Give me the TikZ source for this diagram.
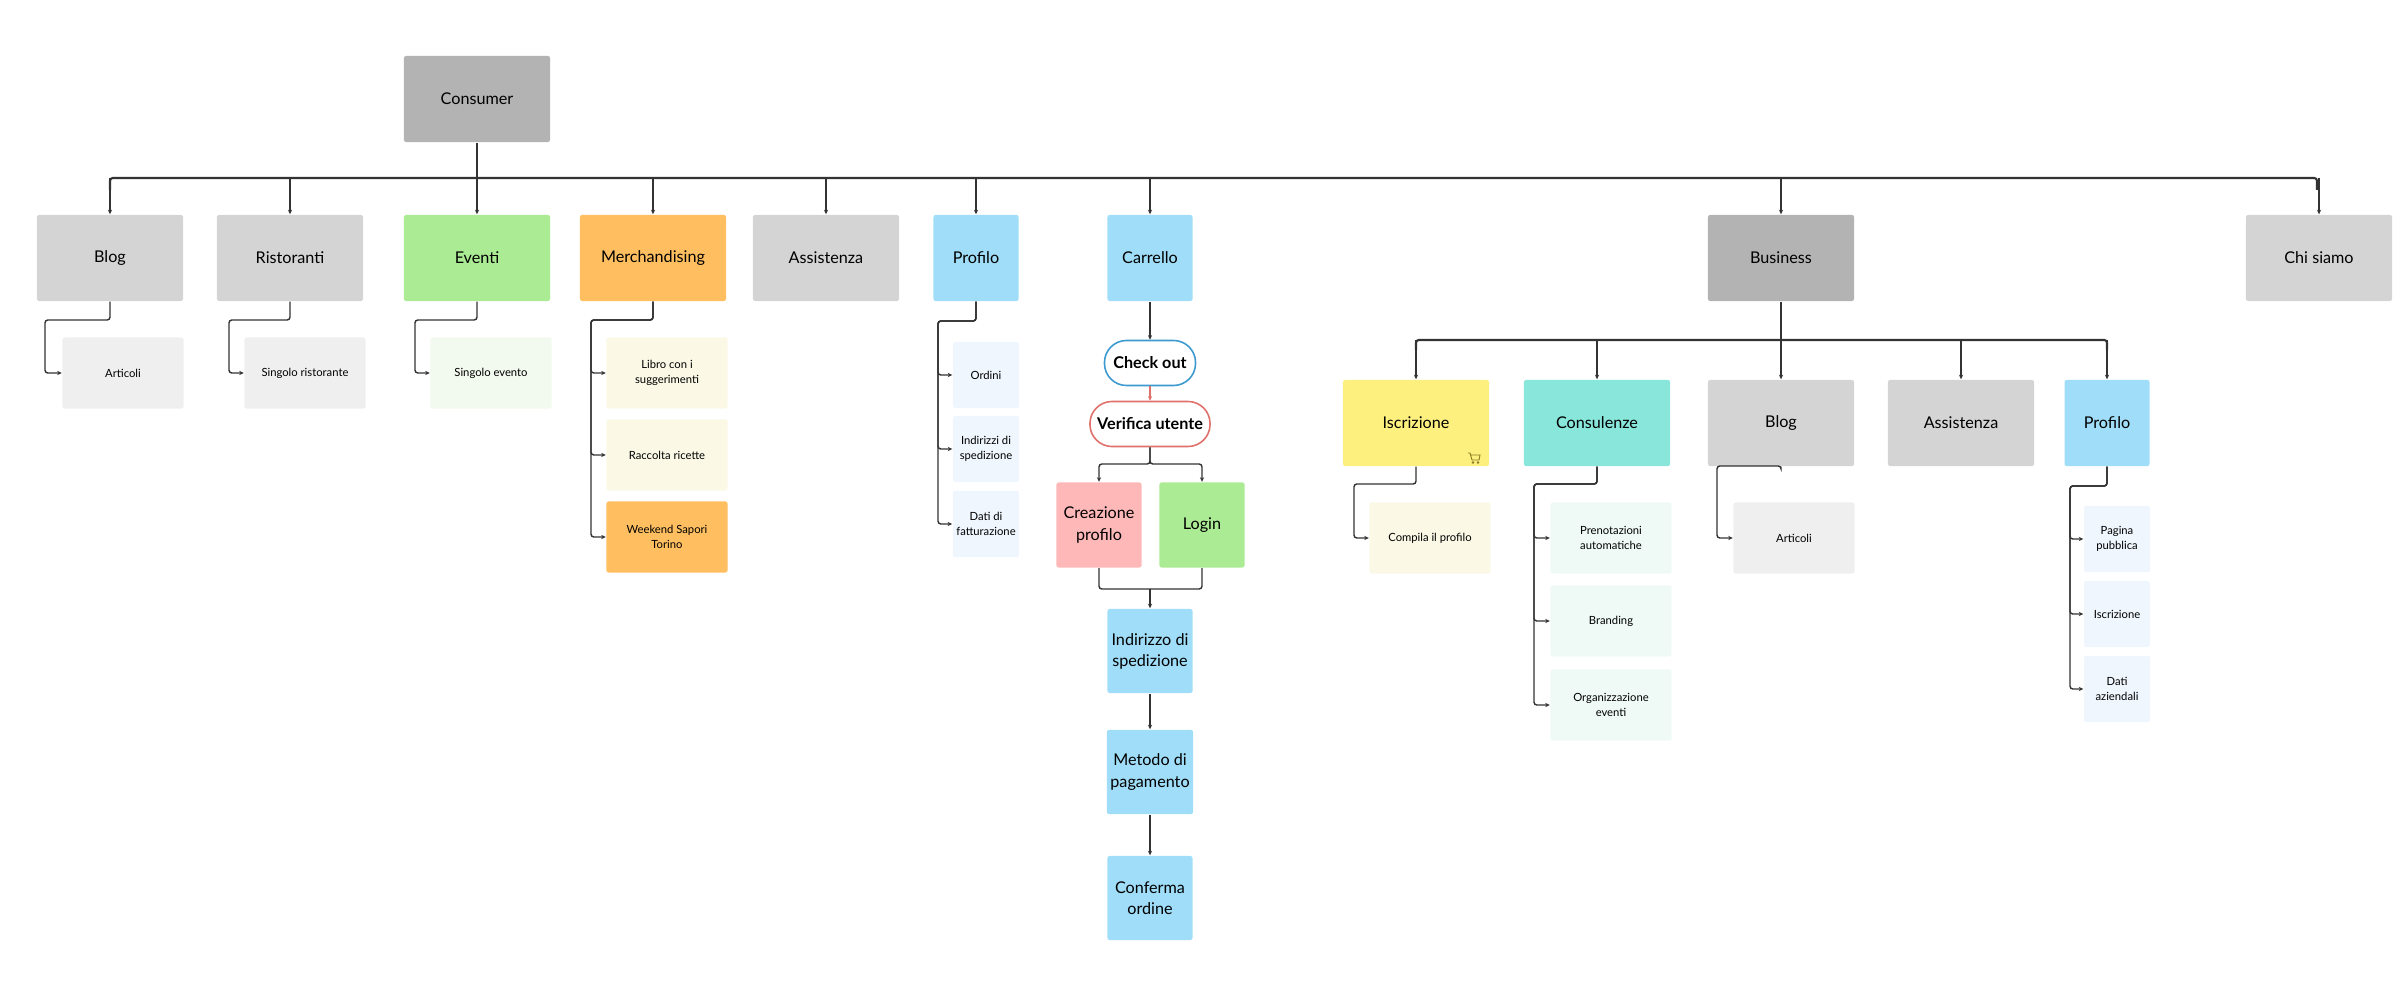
\documentclass[tikz,border=0pt]{standalone}
\usepackage{fontspec}
\setmainfont{Lato}
\usetikzlibrary{arrows.meta}
\definecolor{grayA}{HTML}{D4D4D4}
\definecolor{grayB}{HTML}{B3B3B3}
\definecolor{greenA}{HTML}{ABEB94}
\definecolor{orangeA}{HTML}{FFBF60}
\definecolor{blueA}{HTML}{A0DDF8}
\definecolor{yellowA}{HTML}{FEF07F}
\definecolor{tealA}{HTML}{88E6DA}
\definecolor{pinkA}{HTML}{FFB8B8}
\definecolor{grayL}{HTML}{EFEFEF}
\definecolor{greenL}{HTML}{F2F9EE}
\definecolor{yellowL}{HTML}{FBF9E6}
\definecolor{blueL}{HTML}{EFF6FD}
\definecolor{tealL}{HTML}{EFFAF7}
\definecolor{lineC}{HTML}{333333}
\definecolor{pillBlue}{HTML}{3C9AD0}
\definecolor{pillRed}{HTML}{E0706C}
\definecolor{cartC}{HTML}{8A7A20}
\tikzset{
  box/.style={draw=none, rounded corners=0.6pt, minimum width=1.46cm, minimum height=0.86cm,
    align=center, font=\fontsize{4.6}{6}\selectfont, inner sep=1pt},
  narrow/.style={box, minimum width=0.85cm},
  leaf/.style={draw=none, rounded corners=0.6pt, minimum width=1.21cm, minimum height=0.71cm,
    align=center, font=\fontsize{3.2}{4.4}\selectfont, inner sep=1pt},
  small/.style={leaf, minimum width=0.66cm, minimum height=0.66cm},
  pill/.style={rounded corners=2.2mm, fill=white, line width=0.45pt, minimum height=0.45cm,
    font=\bfseries\fontsize{4.6}{6}\selectfont, inner sep=1pt},
  arr/.style={draw=lineC, line width=0.4pt, -{Stealth[length=1.3pt,width=1.2pt]}},
  bus/.style={draw=lineC, line width=0.6pt, rounded corners=0.8pt},
  sub/.style={arr, rounded corners=0.8pt}
}
\begin{document}
\begin{tikzpicture}[x=0.01cm, y=-0.01cm]
\useasboundingbox (0,0) rectangle (2400,998);
% top level
\node[box, fill=grayB] (cons) at (477,99) {Consumer};
\node[box, fill=grayA] (blog) at (110,258) {Blog};
\node[box, fill=grayA] (rist) at (290,258) {Ristoranti};
\node[box, fill=greenA] (even) at (477,258) {Eventi};
\node[box, fill=orangeA] (merc) at (653,258) {Merchandising};
\node[box, fill=grayA] (assi) at (826,258) {Assistenza};
\node[narrow, fill=blueA] (prof) at (976,258) {Profilo};
\node[narrow, fill=blueA] (carr) at (1150,258) {Carrello};
\node[box, fill=grayB] (busi) at (1781,258) {Business};
\node[box, fill=grayA] (chis) at (2319,258) {Chi siamo};
% main bus
\draw[bus] (cons.south) -- (477,178);
\draw[bus] (110,190) -- (110,178) -- (2317,178) -- (2317,190);
\foreach \n in {blog,rist,even,merc,assi,prof,carr,busi,chis}
  \draw[arr] (\n.north |- 0,178) -- (\n.north);
% consumer leaves
\node[leaf, fill=grayL] (art1) at (123,373) {Articoli};
\node[leaf, fill=grayL] (sris) at (305,373) {Singolo ristorante};
\node[leaf, fill=greenL] (seve) at (491,373) {Singolo evento};
\node[leaf, fill=yellowL] (libr) at (667,373) {Libro con i\\suggerimenti};
\node[leaf, fill=yellowL] (racc) at (667,455) {Raccolta ricette};
\node[leaf, fill=orangeA] (week) at (667,537) {Weekend Sapori\\Torino};
\node[small, fill=blueL] (ordi) at (986,375) {Ordini};
\node[small, fill=blueL] (inds) at (986,449) {Indirizzi di\\spedizione};
\node[small, fill=blueL] (datf) at (986,524) {Dati di\\fatturazione};
\draw[sub] (blog.south) |- (45,320) |- (art1.west);
\draw[sub] (rist.south) |- (229,320) |- (sris.west);
\draw[sub] (even.south) |- (415,320) |- (seve.west);
\foreach \n in {libr,racc,week}
  \draw[sub] (merc.south) |- (591,320) |- (\n.west);
\foreach \n in {ordi,inds,datf}
  \draw[sub] (prof.south) |- (938,321) |- (\n.west);
% checkout flow
\node[pill, draw=pillBlue, minimum width=0.91cm] (chec) at (1150,363) {Check out};
\node[pill, draw=pillRed, minimum width=1.2cm] (veri) at (1150,424) {Verifica utente};
\node[narrow, fill=pinkA, minimum height=0.85cm] (crea) at (1099,525) {Creazione\\profilo};
\node[narrow, fill=greenA, minimum height=0.85cm] (logi) at (1202,525) {Login};
\node[narrow, fill=blueA, minimum height=0.84cm] (indi) at (1150,651) {Indirizzo di\\spedizione};
\node[narrow, fill=blueA, minimum height=0.84cm] (meto) at (1150,772) {Metodo di\\pagamento};
\node[narrow, fill=blueA, minimum height=0.84cm] (conf) at (1150,898) {Conferma\\ordine};
\draw[arr] (carr) -- (chec);
\draw[arr, draw=pillRed] (chec) -- (veri);
\draw[sub] (veri.south) |- (1099,464) -- (crea.north);
\draw[sub] (veri.south) |- (1202,464) -- (logi.north);
\draw[bus, line width=0.4pt] (crea.south) |- (1150,589);
\draw[bus, line width=0.4pt] (logi.south) |- (1150,589);
\draw[arr] (1150,589) -- (indi.north);
\draw[arr] (indi) -- (meto);
\draw[arr] (meto) -- (conf);
% business
\node[box, fill=yellowA] (iscr) at (1416,423) {Iscrizione};
\node[box, fill=tealA] (cons2) at (1597,423) {Consulenze};
\node[box, fill=grayA] (blog2) at (1781,423) {Blog};
\node[box, fill=grayA] (assi2) at (1961,423) {Assistenza};
\node[narrow, fill=blueA] (prof2) at (2107,423) {Profilo};
\draw[bus] (busi.south) -- (1781,340);
\draw[bus] (1416,350) -- (1416,340) -- (2107,340) -- (2107,350);
\foreach \n in {iscr,cons2,blog2,assi2,prof2}
  \draw[arr] (\n.north |- 0,340) -- (\n.north);
% cart icon
\begin{scope}[shift={(1468,453)}, line width=0.25pt, draw=cartC]
  \draw (0,0) -- (2,0) -- (4,7) -- (11,7) -- (12,2) -- (3,2);
  \draw (5,9.5) circle (0.8) (10,9.5) circle (0.8);
\end{scope}
% business leaves
\node[leaf, fill=yellowL] (comp) at (1430,538) {Compila il profilo};
\node[leaf, fill=tealL] (pren) at (1611,538) {Prenotazioni\\automatiche};
\node[leaf, fill=tealL] (bran) at (1611,621) {Branding};
\node[leaf, fill=tealL] (orga) at (1611,705) {Organizzazione\\eventi};
\node[leaf, fill=grayL] (art2) at (1794,538) {Articoli};
\node[small, fill=blueL] (pagi) at (2117,539) {Pagina\\pubblica};
\node[small, fill=blueL] (iscp) at (2117,614) {Iscrizione};
\node[small, fill=blueL] (dati) at (2117,689) {Dati\\aziendali};
\draw[sub] (iscr.south) |- (1354,484) |- (comp.west);
\foreach \n in {pren,bran,orga}
  \draw[sub] (cons2.south) |- (1534,484) |- (\n.west);
\draw[sub] (blog2.south) |- (1717,466) |- (art2.west);
\foreach \n in {pagi,iscp,dati}
  \draw[sub] (prof2.south) |- (2070,486) |- (\n.west);
\end{tikzpicture}
\end{document}
